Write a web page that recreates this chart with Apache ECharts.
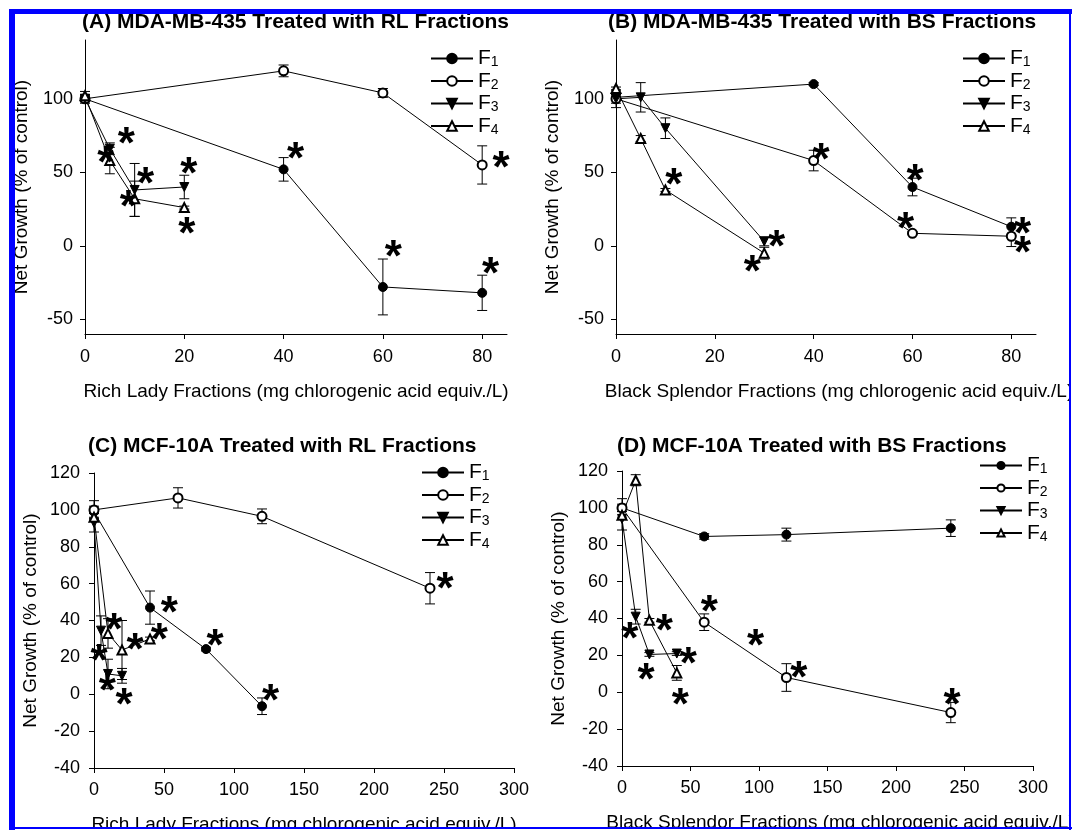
<!DOCTYPE html>
<html>
<head>
<meta charset="utf-8">
<title>Net growth of MDA-MB-435 and MCF-10A cells treated with plum fractions</title>
<script src="https://cdn.jsdelivr.net/npm/echarts@6.0.0/dist/echarts.min.js"></script>
<style>
html, body { margin: 0; padding: 0; background: #fff; }
#main { width: 1072px; height: 830px; }
</style>
</head>
<body>
<div id="main"></div>
<script>
// fractions F1..F4, values
var names = ['F1', 'F2', 'F3', 'F4'];

// (A) MDA-MB-435 / Rich Lady
var a_dose   = [[0, 40, 60, 80], [0, 40, 60, 80], [0, 5, 10, 20], [0, 5, 10, 20]];
var a_growth = [[100, 52, -28, -32], [100, 119, 104, 55], [100, 66, 38, 40], [102, 58, 32, 26]];
var a_sem    = [[2, 8, 19, 12], [3, 4, 3, 13], [2, 4, 18, 8], [3, 9, 12, 1]];
var a_star_x = [8.3, 12.2, 20.9, 20.5, 4.2, 8.7, 42.4, 83.8, 62.1, 81.7];
var a_star_y = [76, 49, 56, 15, 63, 33, 66, 60, -0.5, -12];

// (B) MDA-MB-435 / Black Splendor
var b_dose   = [[0, 40, 60, 80], [0, 40, 60, 80], [0, 5, 10, 30], [0, 5, 10, 30]];
var b_growth = [[101, 110, 40, 13], [100, 58, 8.5, 6.5], [100, 101, 80, 3], [107, 73, 38, -5]];
var b_sem    = [[2, 1, 6, 6], [6, 7, 1, 7], [3, 10, 7, 3], [1, 2, 1, 4]];
var b_star_x = [11.7, 41.5, 60.5, 58.6, 32.5, 27.6, 82.3, 82.3];
var b_star_y = [48, 65, 51, 18, 6, -11, 15, 2];

// (C) MCF-10A / Rich Lady
var c_dose   = [[0, 40, 80, 120], [0, 60, 120, 240], [0, 5, 10, 20], [0, 10, 20, 40]];
var c_growth = [[99, 47, 24.5, -6.5], [100, 106.5, 96.5, 57.5], [93, 34.5, 11, 10], [96, 33, 24, 30]];
var c_sem    = [[3, 9, 1, 4.5], [5, 5.5, 4, 8.5], [5, 8, 8, 4], [2, 8, 16, 1]];
var c_star_x = [250.7, 53.8, 86.4, 126.2, 14.3, 46.7, 29.3, 3.6, 9.5, 21.4];
var c_star_y = [62.5, 49.5, 31.4, 1.6, 40.5, 35, 29.6, 23.3, 7, -0.2];

// (D) MCF-10A / Black Splendor
var d_dose   = [[0, 60, 120, 240], [0, 60, 120, 240], [0, 10, 20, 40], [0, 10, 20, 40]];
var d_growth = [[100, 84.5, 85.5, 89], [100, 38, 8, -11], [94, 41, 20.5, 21], [96, 115, 39, 10.5]];
var d_sem    = [[2, 1.5, 3.5, 4.5], [5, 4.5, 7.5, 5.5], [6, 4, 1, 1], [2, 3, 1, 4]];
var d_star_x = [63.7, 30.9, 5.7, 97.5, 48.4, 17.5, 129, 42.6, 241];
var d_star_y = [49, 38.7, 34.6, 30.6, 21, 12.4, 13, -1.5, -1.2];

// tick labels
var ticks_mda_y = [-50, 0, 50, 100];
var ticks_mda_x = [0, 20, 40, 60, 80];

var titles = [
	'(A) MDA-MB-435 Treated with RL Fractions',
	'(B) MDA-MB-435 Treated with BS Fractions',
	'(C) MCF-10A Treated with RL Fractions',
	'(D) MCF-10A Treated with BS Fractions'
];
var xNames = [
	'Rich Lady Fractions (mg chlorogenic acid equiv./L)',
	'Black Splendor Fractions (mg chlorogenic acid equiv./L)',
	'Rich Lady Fractions (mg chlorogenic acid equiv./L)',
	'Black Splendor Fractions (mg chlorogenic acid equiv./L)'
];
var yName = 'Net Growth (% of control)';

var panels = [
	{dose: a_dose, growth: a_growth, sem: a_sem, sx: a_star_x, sy: a_star_y},
	{dose: b_dose, growth: b_growth, sem: b_sem, sx: b_star_x, sy: b_star_y},
	{dose: c_dose, growth: c_growth, sem: c_sem, sx: c_star_x, sy: c_star_y},
	{dose: d_dose, growth: d_growth, sem: d_sem, sx: d_star_x, sy: d_star_y}
];

var FONT = 'Liberation Sans, Arial, sans-serif';
var symbols = ['circle', 'emptyCircle', 'triangle', 'emptyTriangle'];
var rotates = [0, 0, 180, 0];

// error bar with caps
function errBar(params, api) {
	var x = api.value(0), y = api.value(1), e = api.value(2);
	var hi = api.coord([x, y + e]);
	var lo = api.coord([x, y - e]);
	var w = 5;
	var st = {stroke: '#000', lineWidth: 1};
	return {
		type: 'group',
		children: [
			{type: 'line', shape: {x1: hi[0], y1: hi[1], x2: lo[0], y2: lo[1]}, style: st},
			{type: 'line', shape: {x1: hi[0] - w, y1: hi[1], x2: hi[0] + w, y2: hi[1]}, style: st},
			{type: 'line', shape: {x1: lo[0] - w, y1: lo[1], x2: lo[0] + w, y2: lo[1]}, style: st}
		]
	};
}

var series = [];
panels.forEach(function (p, k) {
	for (var i = 0; i < 4; i++) {
		var pts = [], bars = [];
		for (var j = 0; j < p.dose[i].length; j++) {
			pts.push([p.dose[i][j], p.growth[i][j]]);
			bars.push([p.dose[i][j], p.growth[i][j], p.sem[i][j]]);
		}
		series.push({
			type: 'custom', xAxisIndex: k, yAxisIndex: k, silent: true, z: 1,
			renderItem: errBar, encode: {x: 0, y: 1}, data: bars
		});
		series.push({
			name: names[i], type: 'line', xAxisIndex: k, yAxisIndex: k, z: 3,
			symbol: symbols[i], symbolRotate: rotates[i], symbolSize: 9,
			lineStyle: {color: '#000', width: 1},
			itemStyle: {color: '#000', borderColor: '#000', borderWidth: 1},
			data: pts
		});
	}
	// significance asterisks
	var stars = [];
	for (var s = 0; s < p.sx.length; s++) stars.push([p.sx[s], p.sy[s]]);
	series.push({
		type: 'scatter', xAxisIndex: k, yAxisIndex: k, z: 4, silent: true,
		symbolSize: 1, itemStyle: {color: 'rgba(0,0,0,0)'},
		label: {
			show: true, position: 'inside', formatter: '*', offset: [0, 12],
			fontSize: 44, fontWeight: 'bold', color: '#000', opacity: 1,
			textBorderWidth: 0, textBorderColor: 'transparent', fontFamily: FONT
		},
		data: stars
	});
});

// fixed plot areas, no auto shrinking for labels near the edge
var grids = [
	{left: 85, top: 40, width: 422, height: 294, outerBoundsMode: 'none'},
	{left: 616, top: 40, width: 420, height: 294, outerBoundsMode: 'none'},
	{left: 94, top: 473, width: 420, height: 295, outerBoundsMode: 'none'},
	{left: 622, top: 471, width: 411, height: 295, outerBoundsMode: 'none'}
];

var axisLine = {onZero: false, lineStyle: {color: '#000', width: 1}};
var tickStyle = {show: true, length: 5, lineStyle: {color: '#000', width: 1}};
var labelStyle = {color: '#000', fontSize: 18, fontFamily: FONT};
var nameStyle = {color: '#000', fontSize: 19, fontFamily: FONT};

var xAxes = [], yAxes = [];
for (var k = 0; k < 4; k++) {
	var mda = k < 2;
	var xName = Object.assign({}, nameStyle);
	if (k % 2 == 1) xName.padding = [0, 0, 0, 26];
	xAxes.push({
		type: 'value', gridIndex: k, min: 0, max: mda ? 85 : 300, interval: mda ? 20 : 50,
		axisLine: axisLine, splitLine: {show: false},
		axisTick: mda ? Object.assign({customValues: ticks_mda_x}, tickStyle) : tickStyle,
		axisLabel: Object.assign({margin: mda ? 14 : 13}, labelStyle, mda ? {customValues: ticks_mda_x} : {}),
		name: xNames[k], nameLocation: 'middle', nameGap: mda ? 48 : 47, nameTextStyle: xName
	});
	yAxes.push({
		type: 'value', gridIndex: k, min: mda ? -60 : -40, max: mda ? 140 : 120, interval: mda ? 10 : 20,
		axisLine: axisLine, splitLine: {show: false},
		axisTick: mda ? Object.assign({customValues: ticks_mda_y}, tickStyle) : tickStyle,
		axisLabel: Object.assign({margin: mda ? 12 : 14}, labelStyle, mda ? {customValues: ticks_mda_y} : {}),
		name: yName, nameLocation: 'middle', nameGap: 54, nameTextStyle: nameStyle
	});
}

var titleBoxes = [[82, 12], [608, 12], [88, 436], [617, 436]];
var title = titles.map(function (t, i) {
	return {
		text: t, left: titleBoxes[i][0], top: titleBoxes[i][1], padding: 0,
		textStyle: {color: '#000', fontSize: 21, fontWeight: 'bold', fontFamily: FONT}
	};
});

// legend: F with subscript number
var legendPos = [[430, 48, 12], [962, 48, 12], [421, 462, 12], [979, 455, 9]];
var legend = legendPos.map(function (p) {
	return {
		orient: 'vertical', left: p[0], top: p[1], padding: 0,
		itemWidth: 42, itemHeight: p[2], itemGap: 1, selectedMode: false,
		data: names,
		formatter: function (n) { return '{f|F}{s|' + n.slice(1) + '}'; },
		textStyle: {
			color: '#000', fontFamily: FONT,
			rich: {
				f: {fontSize: 21, lineHeight: 22, fontFamily: FONT, color: '#000'},
				s: {fontSize: 14, lineHeight: 10, verticalAlign: 'bottom', fontFamily: FONT, color: '#000'}
			}
		}
	};
});

// blue frame of the scanned figure
var frame = [
	{type: 'rect', shape: {x: 0, y: 829, width: 1072, height: 10}, style: {fill: '#fff'}, z: 100},
	{type: 'rect', shape: {x: 1071, y: 0, width: 10, height: 830}, style: {fill: '#fff'}, z: 100},
	{type: 'rect', shape: {x: 9, y: 9, width: 6, height: 821}, style: {fill: '#0000ff'}, z: 101},
	{type: 'rect', shape: {x: 9, y: 9, width: 1063, height: 5}, style: {fill: '#0000ff'}, z: 101},
	{type: 'rect', shape: {x: 1069, y: 9, width: 2, height: 821}, style: {fill: '#0000ff'}, z: 101},
	{type: 'rect', shape: {x: 9, y: 827, width: 1063, height: 2}, style: {fill: '#0000ff'}, z: 101}
];

var myChart = echarts.init(document.getElementById('main'));
myChart.setOption({
	animation: false,
	backgroundColor: '#fff',
	textStyle: {fontFamily: FONT},
	title: title,
	legend: legend,
	grid: grids,
	xAxis: xAxes,
	yAxis: yAxes,
	series: series,
	graphic: {elements: frame}
});
</script>
</body>
</html>
